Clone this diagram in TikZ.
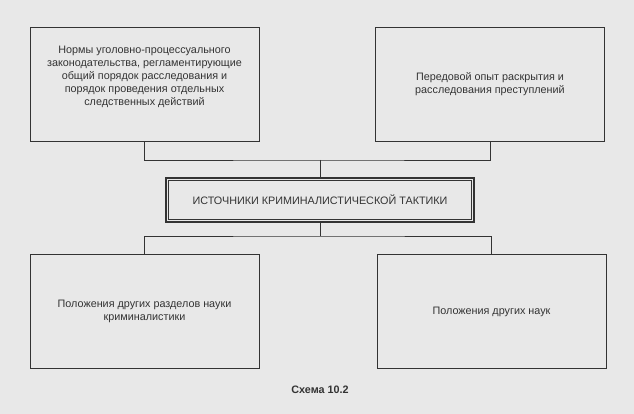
\documentclass[tikz,border=0pt]{standalone}
\usepackage{fontspec}
\setmainfont{Liberation Sans}
\usetikzlibrary{positioning}
\usetikzlibrary{fit}

\definecolor{paper}{HTML}{E8E8E8}
\definecolor{ink}{HTML}{333333}

\tikzset{
  srcbox/.style={draw=ink, line width=0.9pt, minimum width=229pt, minimum height=114pt,
    align=center, text=ink, font=\fontsize{10.8}{13}\selectfont, inner sep=0pt},
  link/.style={draw=ink, line width=0.8pt}
}

\begin{document}
\begin{tikzpicture}[x=1pt, y=1pt]

		\fill[paper] (0,0) rectangle (634,414);
		\useasboundingbox (0,0) rectangle (634,414);

		% the four sources and the centre
		\node at (144.5,330) [srcbox] (norms) {Нормы уголовно-процессуального\\законодательства, регламентирующие\\общий порядок расследования и\\порядок проведения отдельных\\следственных действий\\[4pt]};
		\node at (490,330) [srcbox] (practice) {Передовой опыт раскрытия и\\расследования преступлений};
		\node at (320,214) [draw=ink, line width=2.6pt, minimum width=308pt, minimum height=44pt, text=ink, font=\fontsize{10.8}{12}\selectfont] (core) {ИСТОЧНИКИ КРИМИНАЛИСТИЧЕСКОЙ ТАКТИКИ};
		\node [fit=(core), inner sep=-3.6pt, draw=ink, line width=0.7pt] (coreinner) {};
		\node at (144.5,102.5) [srcbox] (sections) {Положения других разделов науки\\криминалистики};
		\node at (491.5,102.5) [srcbox] (sciences) {Положения других наук};

		\node at (320,24) [text=ink, font=\bfseries\fontsize{10.8}{12}\selectfont] (caption) {Схема 10.2};

		% junctions above and below the centre
		\coordinate (topjoin) at (core.north |- 0,254);
		\coordinate (botjoin) at (core.south |- 0,178);

		\draw [link] (norms.south) |- (topjoin) -| (practice.south);
		\draw [link] (topjoin) -- (core.north);
		\draw [link] (core.south) -- (botjoin);
		\draw [link] (sections.north) |- (botjoin) -| (sciences.north);

\end{tikzpicture}
\end{document}
